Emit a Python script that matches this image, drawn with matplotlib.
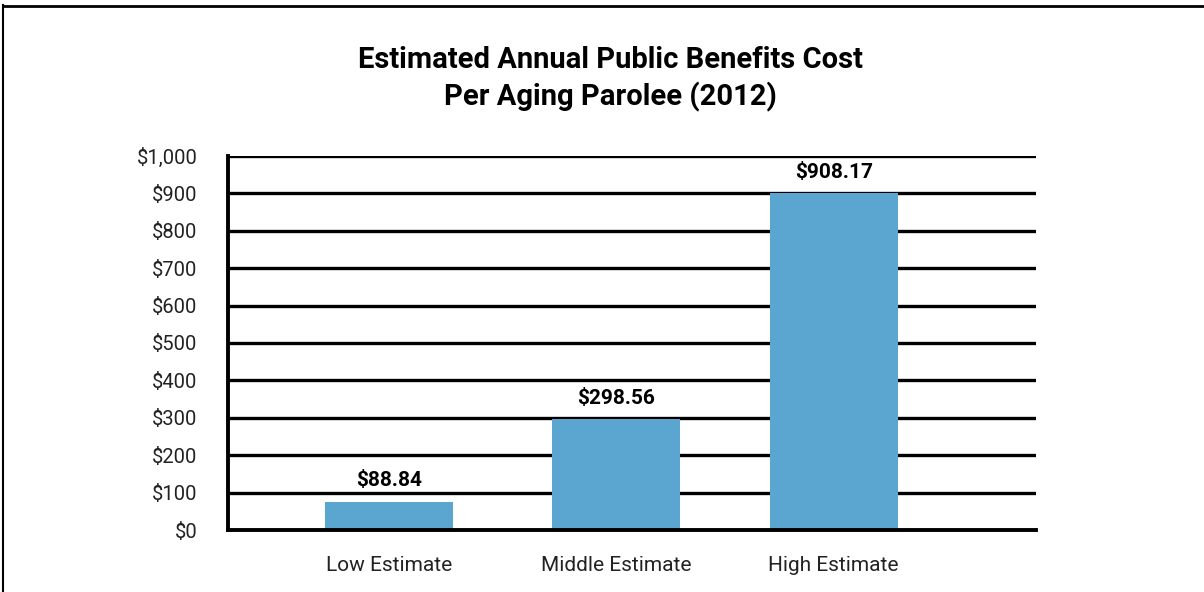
import matplotlib
matplotlib.use("Agg")
import matplotlib.pyplot as plt
from matplotlib.lines import Line2D

categories = ["Low Estimate", "Middle Estimate", "High Estimate"]
bar_heights = [76, 297, 900]
value_labels = ["$88.84", "$298.56", "$908.17"]
y_ticks = [0, 100, 200, 300, 400, 500, 600, 700, 800, 900, 1000]
y_tick_labels = ["$0", "$100", "$200", "$300", "$400", "$500", "$600", "$700", "$800", "$900", "$1,000"]
title_text = "Estimated Annual Public Benefits Cost\nPer Aging Parolee (2012)"

plt.rcParams["font.family"] = ["Roboto", "DejaVu Sans"]

W, H = 1204, 592
fig = plt.figure(figsize=(W / 100, H / 100), dpi=100)
ax = fig.add_axes([228 / W, 1 - 530 / H, (1036 - 228) / W, (530 - 156) / H])

x = [0, 1.02, 2]
ax.set_axisbelow(True)
for t in y_ticks[1:]:
    ax.axhline(t, color="black", lw=2.4, zorder=0)
ax.bar(x, bar_heights, width=0.575, color="#5BA5D1", zorder=2)

for xi, h, lab in zip(x, bar_heights, value_labels):
    ax.annotate(lab, (xi, h), xytext=(0, 8), textcoords="offset points",
                ha="center", va="bottom", fontsize=15, fontweight="bold")

ax.set_xlim(-0.724, 2.91)
ax.set_ylim(0, 1000)
ax.set_yticks(y_ticks)
ax.set_yticklabels(y_tick_labels, fontsize=14.5, color="#222222")
ax.set_xticks(x)
ax.set_xticklabels(categories, fontsize=15, color="#222222")
ax.tick_params(axis="both", length=0)
ax.tick_params(axis="y", pad=22)
ax.tick_params(axis="x", pad=19)
for s in ["top", "right"]:
    ax.spines[s].set_visible(False)
for s in ["left", "bottom"]:
    ax.spines[s].set_linewidth(2.8)
    ax.spines[s].set_color("black")

fig.text(610 / W, 1 - 79 / H, title_text, ha="center", va="center",
         fontsize=21, fontweight="bold", linespacing=1.3)

fig.add_artist(Line2D([3 / W, 3 / W], [0, 1 - 5 / H], transform=fig.transFigure, color="black", lw=1.5))
fig.add_artist(Line2D([3 / W, 1], [1 - 5.5 / H, 1 - 5.5 / H], transform=fig.transFigure, color="black", lw=2))

fig.savefig("out.png", dpi=100)
